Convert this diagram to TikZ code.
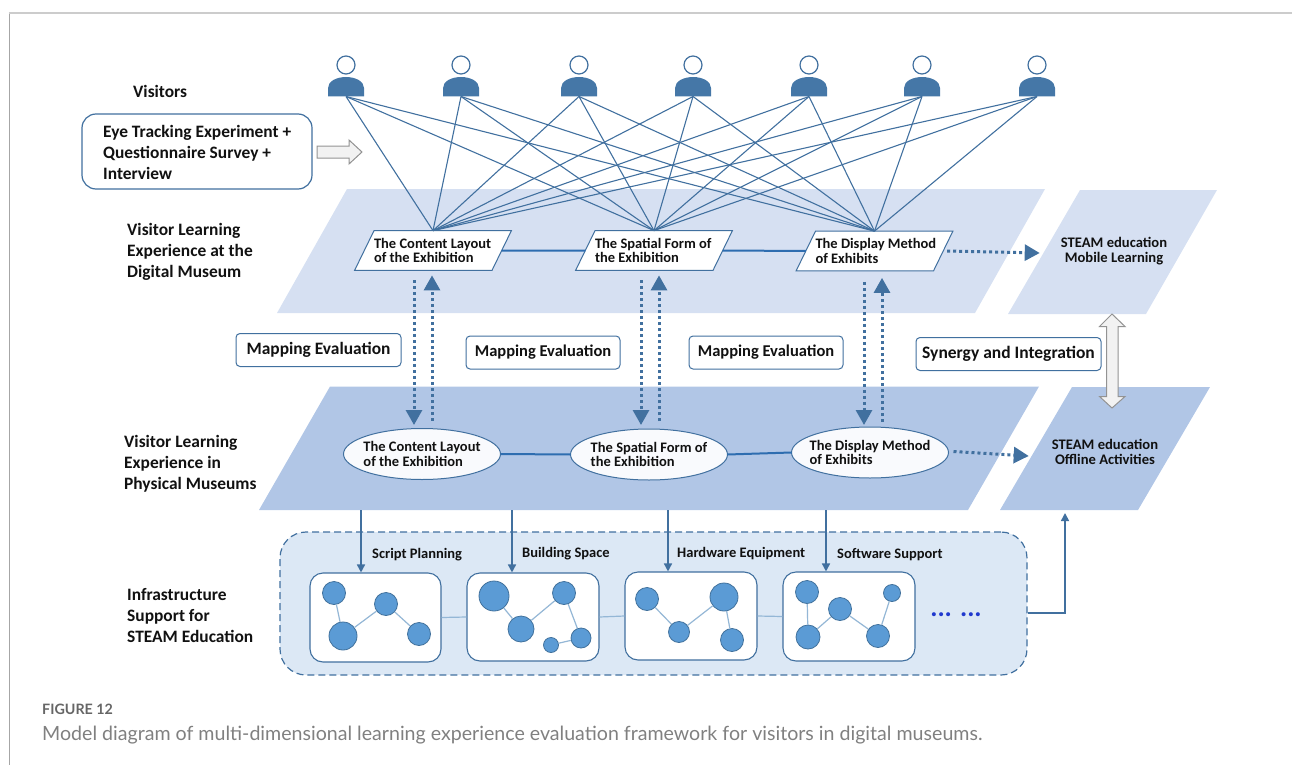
\documentclass[tikz,border=0pt]{standalone}
\usepackage{fontspec}
\setmainfont{Carlito}
\newfontfamily\capfont{Lato}
\usetikzlibrary{shapes.geometric,arrows.meta,calc}
\definecolor{steel}{HTML}{41709F}
\definecolor{planeA}{HTML}{D6E0F2}
\definecolor{planeB}{HTML}{B1C6E6}
\definecolor{contfill}{HTML}{DCE8F5}
\definecolor{dotfill}{HTML}{5B9BD5}
\definecolor{dotline}{HTML}{41719C}
\definecolor{edgeblue}{HTML}{94B7D6}
\definecolor{linkblue}{HTML}{2E6DB0}
\definecolor{inktext}{HTML}{111111}
\newcommand\topline[1]{\makebox[118pt][l]{#1}}
\tikzset{
 planetext/.style={inner sep=0pt,text=inktext,font=\bfseries\fontsize{14.6}{14.5}\selectfont,align=center},
 topnode/.style={trapezium,trapezium left angle=64,trapezium right angle=116,draw=steel,line width=1pt,fill=white,inner xsep=0pt,inner ysep=7.5pt,outer sep=0pt,text=inktext,font=\bfseries\fontsize{14.5}{14.5}\selectfont,align=left},
 ellnode/.style={ellipse,draw=steel,line width=1pt,fill=white!92!planeB,minimum width=157pt,minimum height=51pt,inner xsep=-6pt,inner ysep=0pt,outer sep=0pt,text=inktext,font=\bfseries\fontsize{14.5}{14.5}\selectfont,align=left},
 lbl/.style={anchor=west,inner sep=0pt,text=inktext,font=\bfseries\fontsize{17.4}{21}\selectfont,align=left},
 sublbl/.style={anchor=west,inner sep=0pt,text=inktext,font=\bfseries\fontsize{14.5}{15}\selectfont},
 mapbox/.style={draw=steel,line width=1pt,rounded corners=4pt,fill=white,minimum height=33pt,inner sep=0pt,text=inktext,font=\bfseries\fontsize{16.5}{18}\selectfont},
 netbox/.style={draw=steel,line width=1.1pt,rounded corners=13pt,fill=white,inner sep=0pt},
 ndot/.style={circle,draw=dotline,line width=.8pt,fill=dotfill,inner sep=0pt,minimum size=#1},
 edge/.style={edgeblue,line width=1.2pt},
 fan/.style={steel,line width=1.1pt},
 link/.style={linkblue,line width=2pt},
 dotarrow/.style={steel,line width=3pt,dash pattern=on 3pt off 3pt,-{Triangle[length=15pt,width=16pt,sep=0pt]}},
 drop/.style={steel,line width=1.6pt,-{Triangle[length=8pt,width=8pt]}},
 head/.style={circle,draw=steel,line width=1.2pt,fill=white,minimum size=18pt,inner sep=0pt},
 block/.style={draw=gray!85,line width=1pt,fill=gray!10},
}
\begin{document}
\begin{tikzpicture}[x=1pt,y=-1pt]
\useasboundingbox (0,0) rectangle (1292,765);
\draw[gray!70,line width=1pt] (9,765) -- (9,13);
\draw[gray!40,line width=1.4pt] (8.5,13) -- (1292,13);

% planes
\fill[planeA] (347,189) -- (1045,189) -- (975,313) -- (277,313) -- cycle;
\fill[planeB] (330,386.5) -- (1039,386.5) -- (968,510) -- (259,510) -- cycle;
\fill[planeA] (1080,190) -- (1217,190) -- (1146,314) -- (1008,314) -- cycle;
\fill[planeB] (1072,387) -- (1210,387) -- (1138,510) -- (1000,510) -- cycle;
\coordinate (planeLowS) at (649,510);
\coordinate (offlineEntry) at (1065,513);
\node[planetext] (planeMobile) at (1114,251) {STEAM education\\Mobile Learning};
\node[planetext] (planeOffline) at (1105,452) {STEAM education\\Offline Activities};

% visitors
\foreach \i/\x in {1/346,2/461,3/579,4/693,5/809,6/922,7/1037}{
  \fill[steel!85!dotfill] (\x-18,96.5) -- (\x-18,88) .. controls (\x-18,81) and (\x-9,77) .. (\x,77) .. controls (\x+9,77) and (\x+18,81) .. (\x+18,88) -- (\x+18,96.5) -- cycle;
  \node[head] (head\i) at (\x,65) {};
  \coordinate (p\i) at (\x,96.5);
}

% exhibition nodes, top
\node[topnode] (t1) at (433,250.5) {\topline{The Content Layout}\\\topline{of the Exhibition}};
\node[topnode] (t2) at (654,250.5) {\topline{The Spatial Form of}\\\topline{the Exhibition}};
\node[topnode] (t3) at (874.5,251) {\topline{The Display Method}\\\topline{of Exhibits}};
\foreach \i in {1,...,7}{
  \foreach \j in {1,2,3}{
    \draw[fan] (p\i) -- (t\j.north);
  }
}
\draw[link] (t1.east) -- (t2.west);
\draw[link] (t2.east) -- (t3.west);

% exhibition nodes, low
\node[ellnode] (e1) at (422,454) {The Content Layout\\of the Exhibition};
\node[ellnode] (e2) at (649,454.5) {The Spatial Form of\\the Exhibition};
\node[ellnode] (e3) at (870,452.5) {The Display Method\\of Exhibits};
\draw[link] (e1.east) -- (e2.west);
\draw[link] (e2.east) -- (e3.west);

% mapping arrows
\draw[dotarrow] ([xshift=-19pt,yshift=-10pt]t1.south) -- ([xshift=-8pt,yshift=3.5pt]e1.north);
\draw[dotarrow] ([xshift=10pt,yshift=8pt]e1.north) -- ([xshift=-1pt,yshift=-5pt]t1.south);
\draw[dotarrow] ([xshift=-13pt,yshift=-10pt]t2.south) -- ([xshift=-8pt,yshift=4pt]e2.north);
\draw[dotarrow] ([xshift=10pt,yshift=8pt]e2.north) -- ([xshift=5pt,yshift=-5pt]t2.south);
\draw[dotarrow] ([xshift=-10.5pt,yshift=-11pt]t3.south) -- ([xshift=-6pt,yshift=2pt]e3.north);
\draw[dotarrow] ([xshift=12pt,yshift=5pt]e3.north) -- ([xshift=7.5pt,yshift=-7pt]t3.south);
\draw[dotarrow] ([xshift=4pt]t3.east) -- ([xshift=-21pt,yshift=-2pt]planeMobile.west);
\draw[dotarrow] ([xshift=5pt,yshift=1pt]e3.east) -- ([xshift=-23pt,yshift=-4pt]planeOffline.west);

% text labels
\node[lbl] (lVisitors) at (133,91) {Visitors};
\node[lbl] (lDigital) at (127,252) {Visitor Learning\\Experience at the\\Digital Museum};
\node[lbl] (lPhysical) at (124,464) {Visitor Learning\\Experience in\\Physical Museums};
\node[lbl] (lInfra) at (127,616) {Infrastructure\\Support for\\STEAM Education};

\node[draw=steel,line width=1.2pt,rounded corners=14pt,minimum width=230pt,minimum height=75pt,inner sep=0pt,fill=white] (method) at (197,151.5) {};
\node[lbl,anchor=west] (methodText) at (103,152) {Eye Tracking Experiment +\\Questionnaire Survey +\\Interview};
\draw[block] (317,146) -- (349,146) -- (349,140) -- (362,152) -- (349,164) -- (349,158) -- (317,158) -- cycle;

\node[mapbox,minimum width=165pt,font=\bfseries\fontsize{17.4}{18}\selectfont] (m1) at (318.5,350) {Mapping Evaluation};
\node[mapbox,minimum width=154pt] (m2) at (543,352.5) {Mapping Evaluation};
\node[mapbox,minimum width=154pt] (m3) at (766,352.5) {Mapping Evaluation};
\node[mapbox,minimum width=185pt,font=\bfseries\fontsize{17.5}{18}\selectfont] (m4) at (1008.5,354) {Synergy and Integration};
\draw[block] (1112,314) -- (1125,326.5) -- (1118,326.5) -- (1118,396.5) -- (1125,396.5) -- (1112,408) -- (1099.5,396.5) -- (1106.5,396.5) -- (1106.5,326.5) -- (1099.5,326.5) -- cycle;

% infrastructure
\node[draw=steel,dash pattern=on 7pt off 4pt,line width=1.2pt,rounded corners=26pt,fill=contfill,minimum width=747pt,minimum height=143pt,inner sep=0pt] (cont) at (653.5,603.5) {};
\node[netbox,minimum width=131pt,minimum height=89pt] (b1) at (375.5,617.5) {};
\node[netbox,minimum width=132pt,minimum height=88pt] (b2) at (533,617) {};
\node[netbox,minimum width=132pt,minimum height=88pt] (b3) at (691,616) {};
\node[netbox,minimum width=132pt,minimum height=89pt] (b4) at (849,616.5) {};
\draw[edge] (b1.east) -- (b2.west);
\draw[edge] (b2.east) -- (b3.west);
\draw[edge] (b3.east) -- (b4.west);

\node[ndot=23pt] (a1) at (334,593) {};
\node[ndot=28pt] (a2) at (343,636) {};
\node[ndot=23pt] (a3) at (386,604) {};
\node[ndot=23pt] (a4) at (419,634) {};
\draw[edge] (a1) -- (a2); \draw[edge] (a2) -- (a3); \draw[edge] (a3) -- (a4);

\node[ndot=30pt] (c1) at (494,596) {};
\node[ndot=26pt] (c2) at (521,629) {};
\node[ndot=23pt] (c3) at (564,593) {};
\node[ndot=20pt] (c4) at (581,638) {};
\node[ndot=15pt] (c5) at (551,645) {};
\draw[edge] (c1) -- (c2); \draw[edge] (c2) -- (c3); \draw[edge] (c3) -- (c4); \draw[edge] (c4) -- (c5);

\node[ndot=23pt] (d1) at (647,599) {};
\node[ndot=21pt] (d2) at (679,632) {};
\node[ndot=28pt] (d3) at (724,597) {};
\node[ndot=23pt] (d4) at (732,640) {};
\draw[edge] (d1) -- (d2); \draw[edge] (d2) -- (d3); \draw[edge] (d3) -- (d4);

\node[ndot=23pt] (f1) at (807,592) {};
\node[ndot=24pt] (f2) at (808,637) {};
\node[ndot=23pt] (f3) at (840,609) {};
\node[ndot=23pt] (f4) at (878,636) {};
\node[ndot=17pt] (f5) at (892,593) {};
\draw[edge] (f1) -- (f2); \draw[edge] (f2) -- (f3); \draw[edge] (f3) -- (f4); \draw[edge] (f4) -- (f5);

\node[sublbl] (s1) at (372,555) {Script Planning};
\node[sublbl] (s2) at (522,554) {Building Space};
\node[sublbl] (s3) at (677,554) {Hardware Equipment};
\node[sublbl] (s4) at (837,555) {Software Support};

\node[inner sep=0pt,text=dotline!50!blue,font=\bfseries\fontsize{27}{27}\selectfont] (more) at (956,615) {... ...};

\draw[drop] ([xshift=-14.5pt]b1.north |- planeLowS) -- ([xshift=-14.5pt]b1.north);
\draw[drop] ([xshift=-21pt]b2.north |- planeLowS) -- ([xshift=-21pt]b2.north);
\draw[drop] ([xshift=-23pt]b3.north |- planeLowS) -- ([xshift=-23pt]b3.north);
\draw[drop] ([xshift=-23pt]b4.north |- planeLowS) -- ([xshift=-23pt]b4.north);
\draw[drop] ([yshift=-9.5pt]cont.east) -| (offlineEntry);

% caption
\node[anchor=west,inner sep=0pt,text=black!60,font=\capfont\bfseries\fontsize{14.3}{16}\selectfont] (figlabel) at (42,709) {FIGURE 12};
\node[anchor=west,inner sep=0pt,text=black!50,font=\capfont\fontsize{19.6}{22}\selectfont] (caption) at (42,735) {Model diagram of multi-dimensional learning experience evaluation framework for visitors in digital museums.};
\end{tikzpicture}
\end{document}
